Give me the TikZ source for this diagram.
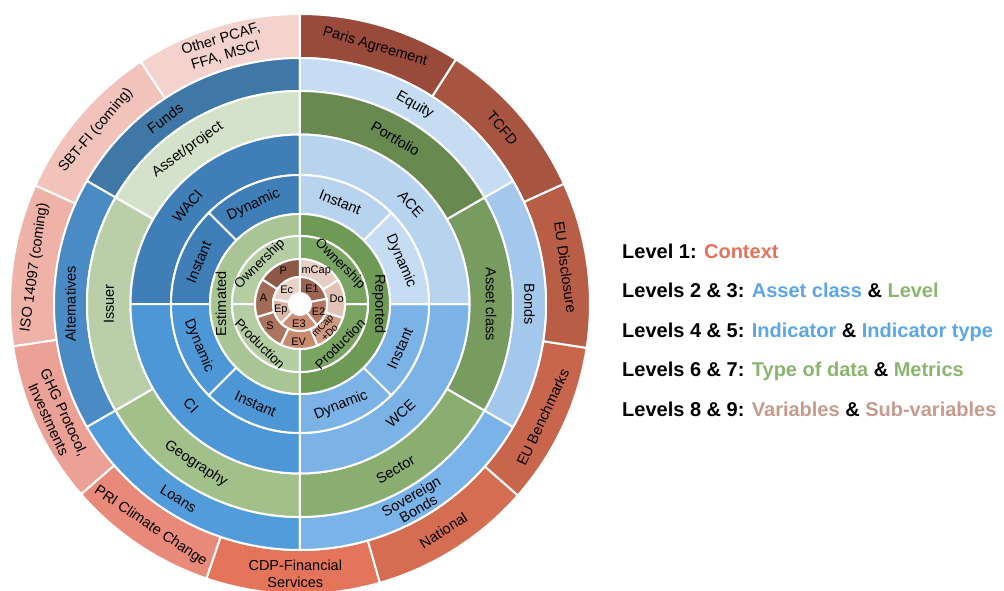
\documentclass[tikz,border=0pt]{standalone}
\usepackage{fontspec}
\setmainfont{Liberation Sans}
\usepackage{tikz}
\usetikzlibrary{positioning}
% context ring
\definecolor{cxa}{HTML}{9A4A3A}
\definecolor{cxb}{HTML}{A75441}
\definecolor{cxc}{HTML}{B85D46}
\definecolor{cxd}{HTML}{C8664D}
\definecolor{cxe}{HTML}{D56D52}
\definecolor{cxf}{HTML}{E4745A}
\definecolor{cxg}{HTML}{E8897A}
\definecolor{cxh}{HTML}{EBA195}
\definecolor{cxi}{HTML}{EEB2A9}
\definecolor{cxj}{HTML}{F1C3BB}
\definecolor{cxk}{HTML}{F4D3CE}
% blues
\definecolor{bla}{HTML}{3F77A7}
\definecolor{blb}{HTML}{4A8BC6}
\definecolor{blc}{HTML}{539CDB}
\definecolor{bld}{HTML}{79B3E8}
\definecolor{ble}{HTML}{A4C7EC}
\definecolor{blf}{HTML}{C6DCF2}
\definecolor{blw}{HTML}{3F7EB6}
\definecolor{blx}{HTML}{4E97D6}
\definecolor{bly}{HTML}{7CB3E7}
\definecolor{blz}{HTML}{B8D3EE}
% greens
\definecolor{gra}{HTML}{D5E2CB}
\definecolor{grb}{HTML}{B9CEA9}
\definecolor{grc}{HTML}{A2C08A}
\definecolor{grd}{HTML}{8AAE70}
\definecolor{gre}{HTML}{789B60}
\definecolor{grf}{HTML}{688A51}
\definecolor{grl}{HTML}{A9C596}
\definecolor{grm}{HTML}{B4CDA2}
\definecolor{grn}{HTML}{6F9A56}
\definecolor{gro}{HTML}{7AA461}
% browns
\definecolor{bra}{HTML}{8E5846}
\definecolor{brb}{HTML}{A26B56}
\definecolor{brc}{HTML}{AB745E}
\definecolor{brd}{HTML}{C8896F}
\definecolor{bre}{HTML}{CF9983}
\definecolor{brf}{HTML}{E2C2B5}
\definecolor{brg}{HTML}{E6CEC5}
\definecolor{brv}{HTML}{9C6350}
\definecolor{brw}{HTML}{E8D1C9}
\definecolor{brx}{HTML}{DDB5A6}
\definecolor{bry}{HTML}{CC8C74}
\definecolor{brz}{HTML}{B57761}
% legend
\definecolor{lgred}{HTML}{E2735B}
\definecolor{lgblue}{HTML}{5BA6E6}
\definecolor{lggreen}{HTML}{8AB56E}
\definecolor{lgbrown}{HTML}{C79A8C}
% sector: inner r, outer r, start, end, colour
\newcommand{\seg}[5]{\filldraw[fill=#5,draw=white,line width=2pt] (#3:#1pt) arc[start angle=#3,end angle=#4,radius=#1pt] -- (#4:#2pt) arc[start angle=#4,end angle=#3,radius=#2pt] -- cycle;}
\tikzset{lab/.style={font=\fontsize{14.5}{17}\selectfont,align=center,inner sep=0pt},
labs/.style={font=\fontsize{11}{9}\selectfont,align=center,inner sep=0pt},
leg/.style={font=\fontsize{20}{24}\selectfont\bfseries,anchor=base west,inner sep=0pt}}

\begin{document}
\begin{tikzpicture}[x=1pt,y=1pt]
\useasboundingbox (-300,-286) rectangle (704,304);
% level 1
\seg{246}{290}{90}{123.3}{cxk}
\seg{246}{290}{123.3}{155.9}{cxj}
\seg{246}{290}{155.9}{188.4}{cxi}
\seg{246}{290}{188.4}{221}{cxh}
\seg{246}{290}{221}{251.2}{cxg}
\seg{246}{290}{251.2}{286}{cxf}
\seg{246}{290}{286}{318.7}{cxe}
\seg{246}{290}{318.7}{351.3}{cxd}
\seg{246}{290}{351.3}{384.5}{cxc}
\seg{246}{290}{24.5}{57.5}{cxb}
\seg{246}{290}{57.5}{90}{cxa}
\draw(73.75:268pt) node[lab,rotate=-16.25] (c1) {Paris Agreement};
\draw(41:268pt) node[lab,rotate=-49] (c2) {TCFD};
\draw(7.9:268pt) node[lab,rotate=-82.1] (c3) {EU Disclosure};
\draw(335:268pt) node[lab,rotate=65] (c4) {EU Benchmarks};
\draw(302.35:268pt) node[lab,rotate=32.35] (c5) {National};
\draw(269:270pt) node[lab] (c6) {CDP-Financial\\Services};
\draw(236.1:268pt) node[lab,rotate=-33.9] (c7) {PRI Climate Change};
\draw(204.7:268pt) node[lab,rotate=-65.3] (c8) {GHG Protocol,\\Investments};
\draw(172.15:268pt) node[lab,rotate=82.15] (c9) {ISO 14097 (coming)};
\draw(139.6:268pt) node[lab,rotate=49.6] (c10) {SBT-FI (coming)};
\draw(106.65:268pt) node[lab,rotate=16.65] (c11) {Other PCAF,\\FFA, MSCI};

% levels 2 and 3
\seg{213}{246}{90}{150}{bla}
\seg{213}{246}{150}{210}{blb}
\seg{213}{246}{210}{270}{blc}
\seg{213}{246}{270}{330}{bld}
\seg{213}{246}{330}{390}{ble}
\seg{213}{246}{30}{90}{blf}
\draw(126:229.5pt) node[lab,rotate=36] (a1) {Funds};
\draw(180:229.5pt) node[lab,rotate=90] (a2) {Alternatives};
\draw(238:229.5pt) node[lab,rotate=-32] (a3) {Loans};
\draw(300:229.5pt) node[lab,rotate=30,font=\fontsize{14.5}{11}\selectfont] (a4) {Sovereign\\Bonds};
\draw(0:229.5pt) node[lab,rotate=-90] (a5) {Bonds};
\draw(60:229.5pt) node[lab,rotate=-30] (a6) {Equity};

\seg{169.5}{213}{90}{150}{gra}
\seg{169.5}{213}{150}{210}{grb}
\seg{169.5}{213}{210}{270}{grc}
\seg{169.5}{213}{270}{330}{grd}
\seg{169.5}{213}{330}{390}{gre}
\seg{169.5}{213}{30}{90}{grf}
\draw(126:191pt) node[lab,rotate=36] (v1) {Asset/project};
\draw(180:191pt) node[lab,rotate=90] (v2) {Issuer};
\draw(237:191pt) node[lab,rotate=-33] (v3) {Geography};
\draw(300:191pt) node[lab,rotate=30] (v4) {Sector};
\draw(0:191pt) node[lab,rotate=-90] (v5) {Asset class};
\draw(60:191pt) node[lab,rotate=-30] (v6) {Portfolio};

% levels 4 and 5
\seg{129}{169.5}{90}{180}{blw}
\seg{129}{169.5}{180}{270}{blx}
\seg{129}{169.5}{270}{360}{bly}
\seg{129}{169.5}{0}{90}{blz}
\draw(139:149pt) node[lab,rotate=49] (i1) {WACI};
\draw(223:149pt) node[lab,rotate=-47] (i2) {CI};
\draw(312.5:149pt) node[lab,rotate=42.5] (i3) {WCE};
\draw(42:149pt) node[lab,rotate=-48] (i4) {ACE};

\seg{90}{129}{90}{135}{blw}
\seg{90}{129}{135}{180}{blw}
\seg{90}{129}{180}{225}{blx}
\seg{90}{129}{225}{270}{blx}
\seg{90}{129}{270}{315}{bly}
\seg{90}{129}{315}{360}{bly}
\seg{90}{129}{0}{45}{blf}
\seg{90}{129}{45}{90}{blz}
\draw(115:109.5pt) node[lab,rotate=25] (t1) {Dynamic};
\draw(157.5:109.5pt) node[lab,rotate=67.5] (t2) {Instant};
\draw(202.5:109.5pt) node[lab,rotate=-67.5] (t3) {Dynamic};
\draw(246:109.5pt) node[lab,rotate=-24] (t4) {Instant};
\draw(292:109.5pt) node[lab,rotate=22] (t5) {Dynamic};
\draw(336:109.5pt) node[lab,rotate=66] (t6) {Instant};
\draw(23:109.5pt) node[lab,rotate=-67] (t7) {Dynamic};
\draw(68.5:109.5pt) node[lab,rotate=-21.5] (t8) {Instant};

% levels 6 and 7
\seg{68}{90}{90}{270}{grl}
\seg{68}{90}{270}{450}{grn}
\draw(180:79pt) node[lab,rotate=90] (d1) {Estimated};
\draw(0:79pt) node[lab,rotate=-90] (d2) {Reported};

\seg{45}{68}{90}{180}{grm}
\seg{45}{68}{180}{270}{grm}
\seg{45}{68}{270}{360}{gro}
\seg{45}{68}{0}{90}{gro}
\draw(135:56.5pt) node[lab,rotate=45,font=\fontsize{13.5}{16}\selectfont] (m1) {Ownership};
\draw(225:56.5pt) node[lab,rotate=-45,font=\fontsize{13.5}{16}\selectfont] (m2) {Production};
\draw(315:56.5pt) node[lab,rotate=45,font=\fontsize{13.5}{16}\selectfont] (m3) {Production};
\draw(45:56.5pt) node[lab,rotate=-45,font=\fontsize{13.5}{16}\selectfont] (m4) {Ownership};

% levels 8 and 9
\seg{27}{45}{32}{90}{brg}
\seg{27}{45}{90}{147}{bra}
\seg{27}{45}{147}{197}{brb}
\seg{27}{45}{197}{245}{brc}
\seg{27}{45}{245}{293}{brd}
\seg{27}{45}{293}{342}{bre}
\seg{27}{45}{342}{392}{brf}
\draw(64:37pt) node[labs] (p1) {mCap};
\draw(117:37pt) node[labs] (p2) {P};
\draw(170:37pt) node[labs] (p3) {A};
\draw(216:37pt) node[labs] (p4) {S};
\draw(268:38pt) node[labs] (p5) {EV};
\draw(316:36pt) node[labs,rotate=46,font=\fontsize{10}{8}\selectfont] (p6) {mCap\\+Do};
\draw(8:37pt) node[labs] (p7) {Do};

\seg{11}{27}{11}{90}{brv}
\seg{11}{27}{90}{170}{brw}
\seg{11}{27}{170}{226}{brx}
\seg{11}{27}{226}{309}{bry}
\seg{11}{27}{309}{371}{brz}
\draw(52:19.5pt) node[labs] (q1) {E1};
\draw(133:19.5pt) node[labs] (q2) {Ec};
\draw(197:20pt) node[labs] (q3) {Ep};
\draw(267:20pt) node[labs] (q4) {E3};
\draw(338:20pt) node[labs] (q5) {E2};

% legend
\begin{scope}[xshift=322pt]
\draw(0,46) node[leg] (l1) {Level 1: \textcolor{lgred}{Context}};
\draw(0,6.5) node[leg] (l2) {Levels 2 \& 3: \textcolor{lgblue}{Asset class} \& \textcolor{lggreen}{Level}};
\draw(0,-33) node[leg] (l3) {Levels 4 \& 5: \textcolor{lgblue}{Indicator} \& \textcolor{lgblue}{Indicator type}};
\draw(0,-72.5) node[leg] (l4) {Levels 6 \& 7: \textcolor{lggreen}{Type of data} \& \textcolor{lggreen}{Metrics}};
\draw(0,-112) node[leg] (l5) {Levels 8 \& 9: \textcolor{lgbrown}{Variables} \& \textcolor{lgbrown}{Sub-variables}};
\end{scope}
\end{tikzpicture}
\end{document}
